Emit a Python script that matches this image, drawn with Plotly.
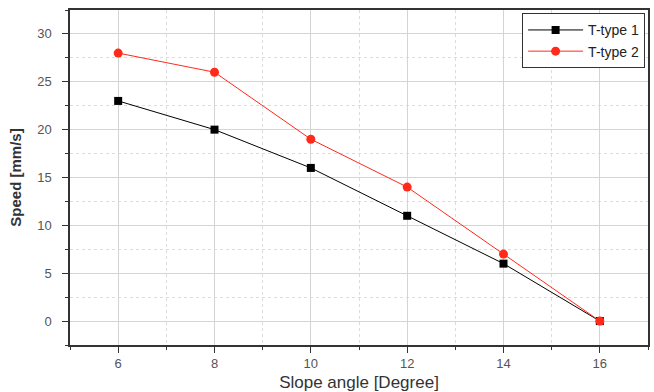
import plotly.graph_objects as go

angles = [6, 8, 10, 12, 14, 16]
t_type1 = [23, 20, 16, 11, 6, 0]
t_type2 = [28, 26, 19, 14, 7, 0]

fig = go.Figure()
fig.add_trace(go.Scatter(x=angles, y=t_type1, mode="lines+markers", name="T-type 1",
                         line=dict(color="#000000", width=1),
                         marker=dict(symbol="square", size=8, color="#000000")))
fig.add_trace(go.Scatter(x=angles, y=t_type2, mode="lines+markers", name="T-type 2",
                         line=dict(color="#ff2a1a", width=1),
                         marker=dict(symbol="circle", size=9, color="#ff2a1a")))

axis_common = dict(showline=True, linecolor="#333333", linewidth=1.5, mirror=True,
                   ticks="outside", ticklen=6, tickcolor="#333333", automargin=False,
                   showgrid=True, gridcolor="#d4d4d4", gridwidth=1, zeroline=False,
                   tickfont=dict(family="Liberation Sans, Arial", size=13, color="#555555"))

fig.update_xaxes(range=[5, 17], tickvals=[6, 8, 10, 12, 14, 16], ticklabelstandoff=0,
                 minor=dict(dtick=1, tick0=5, ticks="outside", ticklen=3, tickcolor="#333333",
                            showgrid=True, gridcolor="#dcdcdc", griddash="dot"),
                 title=dict(text="Slope angle [Degree]", standoff=18,
                            font=dict(family="Liberation Sans, Arial", size=17, color="#333333")),
                 **axis_common)
fig.update_yaxes(range=[-2.5, 32.5], tickvals=[0, 5, 10, 15, 20, 25, 30], ticklabelstandoff=8,
                 minor=dict(dtick=2.5, tick0=-2.5, ticks="outside", ticklen=3, tickcolor="#333333",
                            showgrid=True, gridcolor="#dcdcdc", griddash="dot"),
                 title=dict(text="<b>Speed [mm/s]</b>", standoff=12,
                            font=dict(family="Liberation Sans, Arial", size=15, color="#333333")),
                 **axis_common)

fig.update_layout(width=654, height=392, margin=dict(l=70, r=6, t=10, b=47),
                  plot_bgcolor="white", paper_bgcolor="white",
                  legend=dict(x=0.995, y=0.99, xanchor="right", yanchor="top",
                              bordercolor="#333333", borderwidth=1, bgcolor="white",
                              font=dict(family="Liberation Sans, Arial", size=14, color="#222222"),
                              tracegroupgap=0, itemwidth=55),
                  showlegend=True)

fig.write_html("out.html")
